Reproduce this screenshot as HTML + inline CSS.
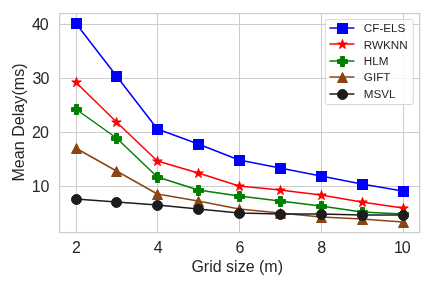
<!DOCTYPE html><html><head><meta charset="utf-8"><style>html,body{margin:0;padding:0;background:#fff}svg{display:block}</style></head><body><svg width="432" height="288" viewBox="0 0 432 288" font-family="Liberation Sans, Arial, sans-serif">
<rect width="432" height="288" fill="#fff"/>
<line x1="76.50" x2="76.50" y1="13.55" y2="232.6" stroke="#cccccc" stroke-width="1"/>
<line x1="157.50" x2="157.50" y1="13.55" y2="232.6" stroke="#cccccc" stroke-width="1"/>
<line x1="239.50" x2="239.50" y1="13.55" y2="232.6" stroke="#cccccc" stroke-width="1"/>
<line x1="321.50" x2="321.50" y1="13.55" y2="232.6" stroke="#cccccc" stroke-width="1"/>
<line x1="403.50" x2="403.50" y1="13.55" y2="232.6" stroke="#cccccc" stroke-width="1"/>
<line x1="59.6" x2="419.75" y1="186.50" y2="186.50" stroke="#cccccc" stroke-width="1"/>
<line x1="59.6" x2="419.75" y1="132.50" y2="132.50" stroke="#cccccc" stroke-width="1"/>
<line x1="59.6" x2="419.75" y1="78.50" y2="78.50" stroke="#cccccc" stroke-width="1"/>
<line x1="59.6" x2="419.75" y1="24.50" y2="24.50" stroke="#cccccc" stroke-width="1"/>
<clipPath id="c"><rect x="59.6" y="13.55" width="360.15" height="219.04999999999998"/></clipPath>
<polyline points="75.60,23.00 116.47,76.00 157.35,129.00 198.22,144.00 239.10,160.00 279.98,168.00 320.85,176.00 361.73,184.00 402.60,191.00" fill="none" stroke="#0000ff" stroke-width="1.5" stroke-linejoin="round"/>
<rect x="71.50" y="18.50" width="10.00" height="10.00" fill="#0000ff" stroke="#0000ff" stroke-width="1.0" stroke-linejoin="miter"/>
<rect x="111.50" y="71.50" width="10.00" height="10.00" fill="#0000ff" stroke="#0000ff" stroke-width="1.0" stroke-linejoin="miter"/>
<rect x="152.50" y="124.50" width="10.00" height="10.00" fill="#0000ff" stroke="#0000ff" stroke-width="1.0" stroke-linejoin="miter"/>
<rect x="193.50" y="139.50" width="10.00" height="10.00" fill="#0000ff" stroke="#0000ff" stroke-width="1.0" stroke-linejoin="miter"/>
<rect x="234.50" y="155.50" width="10.00" height="10.00" fill="#0000ff" stroke="#0000ff" stroke-width="1.0" stroke-linejoin="miter"/>
<rect x="275.50" y="163.50" width="10.00" height="10.00" fill="#0000ff" stroke="#0000ff" stroke-width="1.0" stroke-linejoin="miter"/>
<rect x="316.50" y="171.50" width="10.00" height="10.00" fill="#0000ff" stroke="#0000ff" stroke-width="1.0" stroke-linejoin="miter"/>
<rect x="357.50" y="179.50" width="10.00" height="10.00" fill="#0000ff" stroke="#0000ff" stroke-width="1.0" stroke-linejoin="miter"/>
<rect x="398.50" y="186.50" width="10.00" height="10.00" fill="#0000ff" stroke="#0000ff" stroke-width="1.0" stroke-linejoin="miter"/>
<polyline points="75.60,82.00 116.47,122.00 157.35,161.00 198.22,173.00 239.10,186.00 279.98,190.00 320.85,195.00 361.73,202.00 402.60,208.00" fill="none" stroke="#ff0000" stroke-width="1.5" stroke-linejoin="round"/>
<polygon points="76.50,77.50 75.38,80.95 71.74,80.95 74.68,83.09 73.56,86.55 76.50,84.41 79.44,86.55 78.32,83.09 81.26,80.95 77.62,80.95" fill="#ff0000" stroke="#ff0000" stroke-width="1.0" stroke-linejoin="miter"/>
<polygon points="116.50,117.50 115.38,120.95 111.74,120.95 114.68,123.09 113.56,126.55 116.50,124.41 119.44,126.55 118.32,123.09 121.26,120.95 117.62,120.95" fill="#ff0000" stroke="#ff0000" stroke-width="1.0" stroke-linejoin="miter"/>
<polygon points="157.50,156.50 156.38,159.95 152.74,159.95 155.68,162.09 154.56,165.55 157.50,163.41 160.44,165.55 159.32,162.09 162.26,159.95 158.62,159.95" fill="#ff0000" stroke="#ff0000" stroke-width="1.0" stroke-linejoin="miter"/>
<polygon points="198.50,168.50 197.38,171.95 193.74,171.95 196.68,174.09 195.56,177.55 198.50,175.41 201.44,177.55 200.32,174.09 203.26,171.95 199.62,171.95" fill="#ff0000" stroke="#ff0000" stroke-width="1.0" stroke-linejoin="miter"/>
<polygon points="239.50,181.50 238.38,184.95 234.74,184.95 237.68,187.09 236.56,190.55 239.50,188.41 242.44,190.55 241.32,187.09 244.26,184.95 240.62,184.95" fill="#ff0000" stroke="#ff0000" stroke-width="1.0" stroke-linejoin="miter"/>
<polygon points="280.50,185.50 279.38,188.95 275.74,188.95 278.68,191.09 277.56,194.55 280.50,192.41 283.44,194.55 282.32,191.09 285.26,188.95 281.62,188.95" fill="#ff0000" stroke="#ff0000" stroke-width="1.0" stroke-linejoin="miter"/>
<polygon points="321.50,190.50 320.38,193.95 316.74,193.95 319.68,196.09 318.56,199.55 321.50,197.41 324.44,199.55 323.32,196.09 326.26,193.95 322.62,193.95" fill="#ff0000" stroke="#ff0000" stroke-width="1.0" stroke-linejoin="miter"/>
<polygon points="362.50,197.50 361.38,200.95 357.74,200.95 360.68,203.09 359.56,206.55 362.50,204.41 365.44,206.55 364.32,203.09 367.26,200.95 363.62,200.95" fill="#ff0000" stroke="#ff0000" stroke-width="1.0" stroke-linejoin="miter"/>
<polygon points="403.50,203.50 402.38,206.95 398.74,206.95 401.68,209.09 400.56,212.55 403.50,210.41 406.44,212.55 405.32,209.09 408.26,206.95 404.62,206.95" fill="#ff0000" stroke="#ff0000" stroke-width="1.0" stroke-linejoin="miter"/>
<polyline points="75.60,109.00 116.47,138.00 157.35,177.00 198.22,190.00 239.10,196.00 279.98,201.00 320.85,206.00 361.73,212.00 402.60,214.00" fill="none" stroke="#008000" stroke-width="1.5" stroke-linejoin="round"/>
<polygon points="74.50,104.50 78.50,104.50 78.50,107.50 81.50,107.50 81.50,111.50 78.50,111.50 78.50,114.50 74.50,114.50 74.50,111.50 71.50,111.50 71.50,107.50 74.50,107.50" fill="#008000" stroke="#008000" stroke-width="1.0" stroke-linejoin="miter"/>
<polygon points="114.50,133.50 118.50,133.50 118.50,136.50 121.50,136.50 121.50,140.50 118.50,140.50 118.50,143.50 114.50,143.50 114.50,140.50 111.50,140.50 111.50,136.50 114.50,136.50" fill="#008000" stroke="#008000" stroke-width="1.0" stroke-linejoin="miter"/>
<polygon points="155.50,172.50 159.50,172.50 159.50,175.50 162.50,175.50 162.50,179.50 159.50,179.50 159.50,182.50 155.50,182.50 155.50,179.50 152.50,179.50 152.50,175.50 155.50,175.50" fill="#008000" stroke="#008000" stroke-width="1.0" stroke-linejoin="miter"/>
<polygon points="196.50,185.50 200.50,185.50 200.50,188.50 203.50,188.50 203.50,192.50 200.50,192.50 200.50,195.50 196.50,195.50 196.50,192.50 193.50,192.50 193.50,188.50 196.50,188.50" fill="#008000" stroke="#008000" stroke-width="1.0" stroke-linejoin="miter"/>
<polygon points="237.50,191.50 241.50,191.50 241.50,194.50 244.50,194.50 244.50,198.50 241.50,198.50 241.50,201.50 237.50,201.50 237.50,198.50 234.50,198.50 234.50,194.50 237.50,194.50" fill="#008000" stroke="#008000" stroke-width="1.0" stroke-linejoin="miter"/>
<polygon points="278.50,196.50 282.50,196.50 282.50,199.50 285.50,199.50 285.50,203.50 282.50,203.50 282.50,206.50 278.50,206.50 278.50,203.50 275.50,203.50 275.50,199.50 278.50,199.50" fill="#008000" stroke="#008000" stroke-width="1.0" stroke-linejoin="miter"/>
<polygon points="319.50,201.50 323.50,201.50 323.50,204.50 326.50,204.50 326.50,208.50 323.50,208.50 323.50,211.50 319.50,211.50 319.50,208.50 316.50,208.50 316.50,204.50 319.50,204.50" fill="#008000" stroke="#008000" stroke-width="1.0" stroke-linejoin="miter"/>
<polygon points="360.50,207.50 364.50,207.50 364.50,210.50 367.50,210.50 367.50,214.50 364.50,214.50 364.50,217.50 360.50,217.50 360.50,214.50 357.50,214.50 357.50,210.50 360.50,210.50" fill="#008000" stroke="#008000" stroke-width="1.0" stroke-linejoin="miter"/>
<polygon points="401.50,209.50 405.50,209.50 405.50,212.50 408.50,212.50 408.50,216.50 405.50,216.50 405.50,219.50 401.50,219.50 401.50,216.50 398.50,216.50 398.50,212.50 401.50,212.50" fill="#008000" stroke="#008000" stroke-width="1.0" stroke-linejoin="miter"/>
<polyline points="75.60,148.00 116.47,171.00 157.35,194.00 198.22,201.00 239.10,209.00 279.98,213.00 320.85,217.00 361.73,219.00 402.60,222.00" fill="none" stroke="#8b4513" stroke-width="1.5" stroke-linejoin="round"/>
<polygon points="76.50,143.50 71.50,153.50 81.50,153.50" fill="#8b4513" stroke="#8b4513" stroke-width="1.0" stroke-linejoin="miter"/>
<polygon points="116.50,166.50 111.50,176.50 121.50,176.50" fill="#8b4513" stroke="#8b4513" stroke-width="1.0" stroke-linejoin="miter"/>
<polygon points="157.50,189.50 152.50,199.50 162.50,199.50" fill="#8b4513" stroke="#8b4513" stroke-width="1.0" stroke-linejoin="miter"/>
<polygon points="198.50,196.50 193.50,206.50 203.50,206.50" fill="#8b4513" stroke="#8b4513" stroke-width="1.0" stroke-linejoin="miter"/>
<polygon points="239.50,204.50 234.50,214.50 244.50,214.50" fill="#8b4513" stroke="#8b4513" stroke-width="1.0" stroke-linejoin="miter"/>
<polygon points="280.50,208.50 275.50,218.50 285.50,218.50" fill="#8b4513" stroke="#8b4513" stroke-width="1.0" stroke-linejoin="miter"/>
<polygon points="321.50,212.50 316.50,222.50 326.50,222.50" fill="#8b4513" stroke="#8b4513" stroke-width="1.0" stroke-linejoin="miter"/>
<polygon points="362.50,214.50 357.50,224.50 367.50,224.50" fill="#8b4513" stroke="#8b4513" stroke-width="1.0" stroke-linejoin="miter"/>
<polygon points="403.50,217.50 398.50,227.50 408.50,227.50" fill="#8b4513" stroke="#8b4513" stroke-width="1.0" stroke-linejoin="miter"/>
<polyline points="75.60,199.00 116.47,202.00 157.35,205.00 198.22,209.00 239.10,213.00 279.98,214.00 320.85,214.00 361.73,215.00 402.60,215.00" fill="none" stroke="#1c1c1c" stroke-width="1.5" stroke-linejoin="round"/>
<circle cx="76.50" cy="199.50" r="5.00" fill="#1c1c1c" stroke="#1c1c1c" stroke-width="1.0" stroke-linejoin="miter"/>
<circle cx="116.50" cy="202.50" r="5.00" fill="#1c1c1c" stroke="#1c1c1c" stroke-width="1.0" stroke-linejoin="miter"/>
<circle cx="157.50" cy="205.50" r="5.00" fill="#1c1c1c" stroke="#1c1c1c" stroke-width="1.0" stroke-linejoin="miter"/>
<circle cx="198.50" cy="209.50" r="5.00" fill="#1c1c1c" stroke="#1c1c1c" stroke-width="1.0" stroke-linejoin="miter"/>
<circle cx="239.50" cy="213.50" r="5.00" fill="#1c1c1c" stroke="#1c1c1c" stroke-width="1.0" stroke-linejoin="miter"/>
<circle cx="280.50" cy="214.50" r="5.00" fill="#1c1c1c" stroke="#1c1c1c" stroke-width="1.0" stroke-linejoin="miter"/>
<circle cx="321.50" cy="214.50" r="5.00" fill="#1c1c1c" stroke="#1c1c1c" stroke-width="1.0" stroke-linejoin="miter"/>
<circle cx="362.50" cy="215.50" r="5.00" fill="#1c1c1c" stroke="#1c1c1c" stroke-width="1.0" stroke-linejoin="miter"/>
<circle cx="403.50" cy="215.50" r="5.00" fill="#1c1c1c" stroke="#1c1c1c" stroke-width="1.0" stroke-linejoin="miter"/>
<rect x="59.6" y="13.55" width="360.15" height="219.04999999999998" fill="none" stroke="#cccccc" stroke-width="1.25"/>
<text x="76.35" y="252.6" text-anchor="middle" font-size="16" fill="#262626">2</text>
<text x="158.10" y="252.6" text-anchor="middle" font-size="16" fill="#262626">4</text>
<text x="239.85" y="252.6" text-anchor="middle" font-size="16" fill="#262626">6</text>
<text x="321.60" y="252.6" text-anchor="middle" font-size="16" fill="#262626">8</text>
<text x="394.05 401.85" y="252.6" font-size="16" fill="#262626">10</text>
<text x="31.7 40.6" y="191.80" font-size="16" fill="#262626">10</text>
<text x="32.1 39.9" y="137.80" font-size="16" fill="#262626">20</text>
<text x="32.6 40.6" y="83.80" font-size="16" fill="#262626">30</text>
<text x="31.9 39.8" y="29.80" font-size="16" fill="#262626">40</text>
<text x="237.2" y="272.1" text-anchor="middle" font-size="16" fill="#262626">Grid size (m)</text>
<text transform="translate(24,122.5) rotate(-90)" text-anchor="middle" font-size="16.12" fill="#262626">Mean Delay(ms)</text>
<rect x="325.3" y="19.6" width="88" height="84.9" rx="2" fill="#fff" fill-opacity="0.8" stroke="#cccccc" stroke-opacity="0.8" stroke-width="1"/>
<line x1="329.4" x2="354.4" y1="28" y2="28" stroke="#0000ff" stroke-width="1.5"/>
<rect x="337.50" y="23.50" width="10.00" height="10.00" fill="#0000ff" stroke="#0000ff" stroke-width="1.0" stroke-linejoin="miter"/>
<text x="363.8" y="32.10" font-size="11.7" fill="#262626">CF-ELS</text>
<line x1="329.4" x2="354.4" y1="44" y2="44" stroke="#ff0000" stroke-width="1.5"/>
<polygon points="342.50,39.50 341.38,42.95 337.74,42.95 340.68,45.09 339.56,48.55 342.50,46.41 345.44,48.55 344.32,45.09 347.26,42.95 343.62,42.95" fill="#ff0000" stroke="#ff0000" stroke-width="1.0" stroke-linejoin="miter"/>
<text x="363.8" y="48.60" font-size="11.7" fill="#262626">RWKNN</text>
<line x1="329.4" x2="354.4" y1="61" y2="61" stroke="#008000" stroke-width="1.5"/>
<polygon points="340.50,56.50 344.50,56.50 344.50,59.50 347.50,59.50 347.50,63.50 344.50,63.50 344.50,66.50 340.50,66.50 340.50,63.50 337.50,63.50 337.50,59.50 340.50,59.50" fill="#008000" stroke="#008000" stroke-width="1.0" stroke-linejoin="miter"/>
<text x="363.8" y="65.00" font-size="11.7" fill="#262626">HLM</text>
<line x1="329.4" x2="354.4" y1="77" y2="77" stroke="#8b4513" stroke-width="1.5"/>
<polygon points="342.50,72.50 337.50,82.50 347.50,82.50" fill="#8b4513" stroke="#8b4513" stroke-width="1.0" stroke-linejoin="miter"/>
<text x="363.8" y="80.60" font-size="11.7" fill="#262626">GIFT</text>
<line x1="329.4" x2="354.4" y1="94" y2="94" stroke="#1c1c1c" stroke-width="1.5"/>
<circle cx="342.50" cy="94.50" r="5.00" fill="#1c1c1c" stroke="#1c1c1c" stroke-width="1.0" stroke-linejoin="miter"/>
<text x="363.8" y="98.10" font-size="11.7" fill="#262626">MSVL</text>
</svg></body></html>
